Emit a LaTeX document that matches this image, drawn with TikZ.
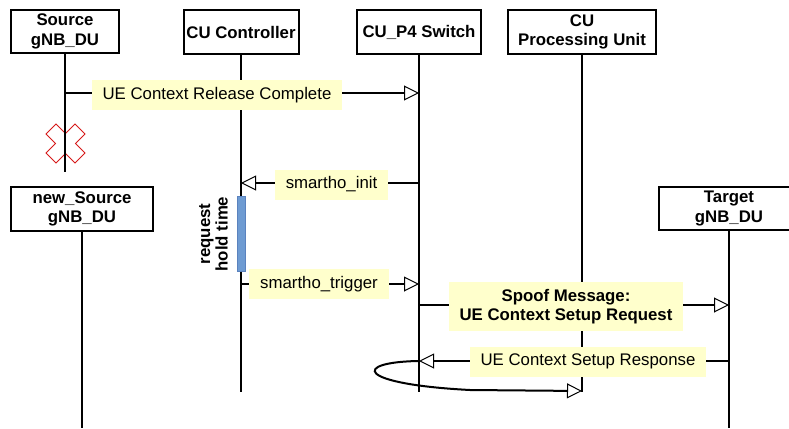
\documentclass[tikz,border=0pt]{standalone}
\usepackage{fontspec}
\setmainfont{Liberation Sans}
\usetikzlibrary{arrows.meta}
\definecolor{notey}{RGB}{255,255,204}
\definecolor{barblue}{RGB}{110,155,210}
\definecolor{barline}{RGB}{90,130,190}
\definecolor{xred}{RGB}{215,25,25}
\begin{document}
\begin{tikzpicture}[x=1pt,y=-1pt,
  every node/.style={font=\fontsize{16.8}{19.5}\selectfont},
  head/.style={draw, line width=2pt, font=\fontsize{16.8}{19.5}\selectfont\bfseries, align=center, inner sep=0pt},
  life/.style={line width=2pt},
  msg/.style={line width=2pt, -{Triangle[open,length=15pt,width=15pt,line width=1pt]}},
  lbl/.style={fill=notey, inner xsep=11pt, inner ysep=0pt, minimum height=30pt}]
\clip (0,0) rectangle (789,428);
\fill[white] (0,0) rectangle (789,428);
% heads
\node[head, minimum width=108pt, minimum height=43pt] (src) at (65,31.5) {Source\\gNB\_DU};
\node[head, minimum width=115pt, minimum height=44pt] (ctl) at (241,32) {CU Controller};
\node[head, minimum width=124pt, minimum height=44pt] (sw) at (419,32) {CU\_P4 Switch};
\node[head, minimum width=148pt, minimum height=44pt] (pu) at (582,32) {CU\\Processing Unit};
\node[head, minimum width=142pt, minimum height=44pt] (nsrc) at (82,209) {new\_Source\\gNB\_DU};
\node[head, minimum width=140pt, minimum height=43pt] (tgt) at (729,208.5) {Target\\gNB\_DU};
% levels
\coordinate (srcend) at (0,172);
\coordinate (bot) at (0,392);
\coordinate (bot2) at (0,391);
\coordinate (pagebot) at (0,428);
\coordinate (y1) at (0,93);
\coordinate (y2) at (0,183);
\coordinate (y3) at (0,284);
\coordinate (y4) at (0,305);
\coordinate (y5) at (0,361);
% destruction cross
\draw[xred, line width=1pt, shift={(65.5,143.5)}] (0,-10) -- (9.5,-19.5) -- (19.5,-9.5) -- (10,0) -- (19.5,9.5) -- (9.5,19.5) -- (0,10) -- (-9.5,19.5) -- (-19.5,9.5) -- (-10,0) -- (-19.5,-9.5) -- (-9.5,-19.5) -- cycle;
% lifelines
\draw[life] (src.south) -- (src.south |- srcend);
\draw[life] (ctl.south) -- (ctl.south |- bot);
\draw[life] (sw.south) -- (sw.south |- bot);
\draw[life] (pu.south) -- (pu.south |- bot);
\draw[life] (nsrc.south) -- (nsrc.south |- pagebot);
\draw[life] (tgt.south) -- (tgt.south |- pagebot);
% activation bar
\node[fill=barblue, draw=barline, line width=0.6pt, minimum width=8pt, minimum height=75pt, inner sep=0pt] (bar) at (241,233.5) {};
\node[rotate=90, align=center, font=\fontsize{16.8}{17.5}\selectfont\bfseries, inner sep=0pt] (hold) at (213.5,234) {request\\hold time};
% messages
\draw[msg] (src.south |- y1) -- (sw.south |- y1);
\node[lbl] (l1) at (217,95) {UE Context Release Complete};
\draw[msg] (sw.south |- y2) -- (ctl.south |- y2);
\node[lbl] (l2) at (331.5,184.5) {smartho\_init};
\draw[msg] (ctl.south |- y3) -- (sw.south |- y3);
\node[lbl] (l3) at (319,284) {smartho\_trigger};
\draw[msg] (sw.south |- y4) -- (tgt.south |- y4);
\node[lbl, minimum height=49pt, align=center, font=\fontsize{16.8}{19.5}\selectfont\bfseries] (l4) at (566,306.5) {Spoof Message:\\UE Context Setup Request};
\draw[msg] (tgt.south |- y5) -- (sw.south |- y5);
\node[lbl] (l5) at (588,361.5) {UE Context Setup Response};
\draw[msg] (sw.south |- y5) .. controls (352,362) and (355,384) .. (470,390) -- (pu.south |- bot2);
\end{tikzpicture}
\end{document}
